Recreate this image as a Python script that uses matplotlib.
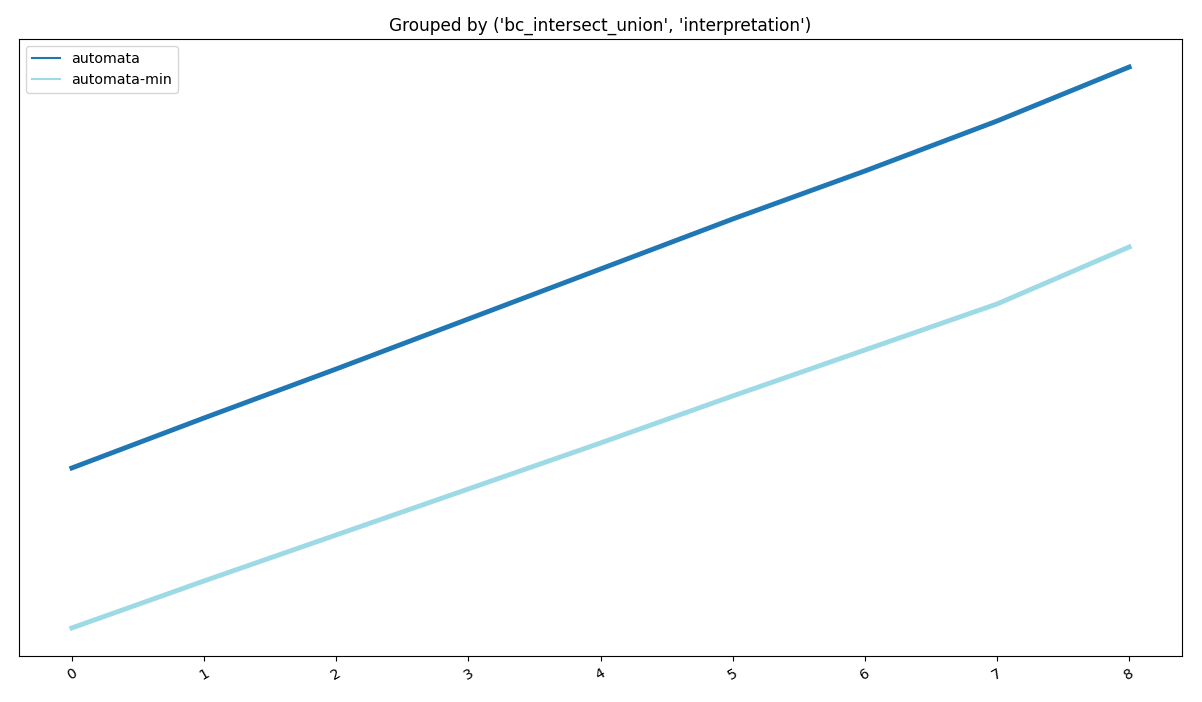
import numpy as np
import matplotlib
matplotlib.use('Agg')
import matplotlib.pyplot as plt

# values (y axis carries no labels, units arbitrary)
steps = [0, 1, 2, 3, 4, 5, 6, 7, 8]
automata = [188, 238, 287, 337, 387, 437, 485, 535, 589]
automata_min = [28, 75, 121, 167, 213, 260, 306, 352, 409]

plt.rcParams['font.size'] = 10.2

fig, ax = plt.subplots(figsize=(12.02, 7.02), dpi=100)
fig.subplots_adjust(left=19/1202, right=1182/1202, top=1-39/702, bottom=1-656/702)

ax.plot(steps, automata, color='#1f77b4', lw=3.5, label='automata')
ax.plot(steps, automata_min, color='#9edae5', lw=3.5, label='automata-min')

ax.set_title("Grouped by ('bc_intersect_union', 'interpretation')")
ax.set_xticks(steps)
ax.set_xticklabels([str(s) for s in steps], rotation=30)
ax.set_yticks([])

leg = ax.legend(loc='upper left')
for line in leg.get_lines():
    line.set_linewidth(1.5)

plt.savefig('out.png', dpi=100)
